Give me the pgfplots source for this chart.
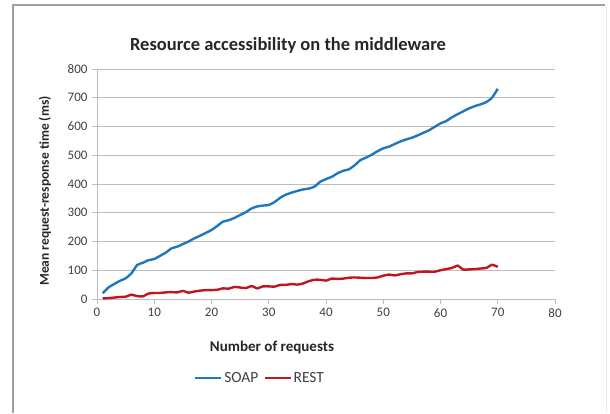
\documentclass[border=0pt]{standalone}
\usepackage{pgfplots}
\pgfplotsset{compat=1.18}
\usepackage{fontspec}
\setmainfont{Carlito}
\definecolor{soap}{RGB}{31,119,190}
\definecolor{rest}{RGB}{192,22,34}
\definecolor{gridc}{RGB}{190,190,190}
\definecolor{txt}{RGB}{64,64,64}
\begin{document}
\begin{tikzpicture}[x=1pt,y=1pt]
\useasboundingbox (0,0) rectangle (610,413);
% frame
\draw[gray!75, line width=1.2pt] (13,0) -- (13,408) -- (605,408);
\draw[gray!15, line width=0.8pt] (606,408) -- (606,0);
\begin{axis}[
  at={(97pt,114pt)}, anchor=south west,
  scale only axis, width=458pt, height=230pt,
  xmin=0, xmax=80, ymin=0, ymax=800,
  xtick={0,10,...,80}, ytick={0,100,...,800},
  axis x line*=bottom, axis y line*=left,
  axis line style={gridc, line width=0.8pt, -},
  tick style={gridc, line width=0.8pt},
  tick align=outside, major tick length=5pt,
  ymajorgrids, grid style={gridc, line width=0.8pt},
  tick label style={font=\fontsize{13}{15}\selectfont, text=txt},
  /pgf/number format/assume math mode=true,
  xticklabel style={yshift=-1pt},
  yticklabel style={xshift=-1pt},
  legend style={at={(rel axis cs:0.356,-0.343)}, anchor=center, draw=none,
    font=\fontsize{15.5}{17}\selectfont, text=txt, legend columns=2,
    /tikz/every even column/.append style={column sep=3pt}},
  legend image code/.code={\draw[#1, line width=2.2pt] (0pt,0pt) -- (26pt,0pt);},
  legend cell align=left,
  clip=false,
]
\addplot[soap, line width=2.4pt, smooth, tension=0.3] coordinates {
(1,20)(2,40)(3,52)(4,63)(5,72)(6,89)(7,118)(8,126)(9,135)(10,139)
(11,150)(12,161)(13,176)(14,182)(15,191)(16,200)(17,211)(18,220)(19,230)(20,240)
(21,254)(22,269)(23,274)(24,282)(25,292)(26,302)(27,315)(28,322)(29,325)(30,327)
(31,337)(32,352)(33,363)(34,370)(35,376)(36,381)(37,384)(38,391)(39,408)(40,417)
(41,425)(42,437)(43,446)(44,451)(45,465)(46,483)(47,492)(48,502)(49,514)(50,524)
(51,530)(52,539)(53,548)(54,555)(55,561)(56,569)(57,578)(58,587)(59,599)(60,611)
(61,619)(62,632)(63,643)(64,653)(65,663)(66,671)(67,677)(68,685)(69,700)(70,731)
};
\addlegendentry{SOAP}
\addplot[rest, line width=2.4pt, smooth, tension=0.3] coordinates {
(1,2)(2,3)(3,5)(4,7)(5,8)(6,15)(7,10)(8,9)(9,19)(10,21)
(11,21)(12,23)(13,24)(14,23)(15,28)(16,22)(17,26)(18,29)(19,31)(20,31)
(21,32)(22,37)(23,36)(24,42)(25,40)(26,38)(27,45)(28,37)(29,44)(30,44)
(31,43)(32,49)(33,49)(34,52)(35,50)(36,54)(37,62)(38,67)(39,67)(40,64)
(41,71)(42,70)(43,71)(44,74)(45,75)(46,74)(47,73)(48,73)(49,75)(50,81)
(51,85)(52,82)(53,86)(54,89)(55,89)(56,94)(57,95)(58,95)(59,95)(60,100)
(61,104)(62,108)(63,116)(64,102)(65,103)(66,104)(67,106)(68,108)(69,119)(70,112)
};
\addlegendentry{REST}
\end{axis}
\node[font=\fontsize{18.5}{20}\selectfont\bfseries, text=black!85] at (288,368) {Resource accessibility on the middleware};
\node[font=\fontsize{13.5}{15}\selectfont\bfseries, text=black!85, rotate=90] at (45,222) {Mean request-response time (ms)};
\node[font=\fontsize{15}{17}\selectfont\bfseries, text=black!85] at (272,66) {Number of requests};
\end{tikzpicture}
\end{document}
